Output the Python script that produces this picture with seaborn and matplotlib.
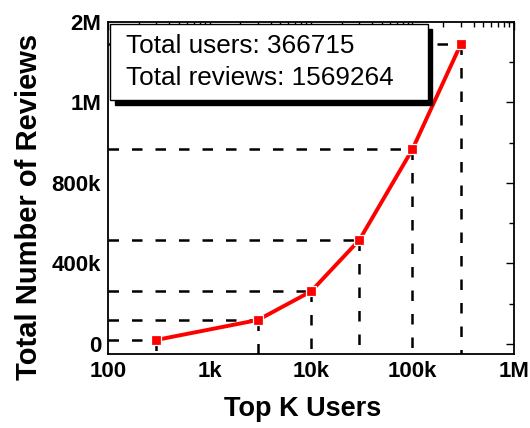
import matplotlib
matplotlib.use("Agg")
import matplotlib.pyplot as plt
import matplotlib.ticker as mticker
from matplotlib.patches import Rectangle
import numpy as np
import pandas as pd
import seaborn as sns

# Top-K users vs. cumulative number of reviews they wrote
top_k = [300, 3000, 10000, 30000, 100000, 300000]
total_reviews = [20000, 119000, 261000, 517000, 968000, 1491000]

total_users_text = "Total users: 366715"
total_reviews_text = "Total reviews: 1569264"

x_ticks = [100, 1000, 10000, 100000, 1000000]
x_tick_labels = ["100", "1k", "10k", "100k", "1M"]

sns.set_theme(style="white")
plt.rcParams["font.family"] = ["Liberation Sans", "DejaVu Sans"]
plt.rcParams["text.color"] = "black"
plt.rcParams["axes.labelcolor"] = "black"
plt.rcParams["xtick.color"] = "black"
plt.rcParams["ytick.color"] = "black"

df = pd.DataFrame({"k": top_k, "reviews": total_reviews})

fig = plt.figure(figsize=(5.30, 4.28), dpi=100)
ax = fig.add_axes([0.2038, 0.1729, 0.7660, 0.7757])

ymin, ymax = -50000, 1600000

# dashed guides from each point to the axes
for k, r in zip(top_k, total_reviews):
    ax.plot([100, k], [r, r], color="black", lw=1.8, dashes=(4.2, 5.2), zorder=1)
    ax.plot([k, k], [r, ymin], color="black", lw=1.8, dashes=(4.2, 5.2), zorder=1)

sns.lineplot(data=df, x="k", y="reviews", ax=ax, color="#ff0000", lw=2.8,
             marker="s", markersize=7.8, markeredgecolor="white",
             markeredgewidth=0.9, zorder=3)

ax.set_xscale("log")
ax.set_xlim(100, 1e6)
ax.set_ylim(ymin, ymax)

ax.set_xticks(x_ticks)
ax.set_xticklabels(x_tick_labels)
ax.xaxis.set_minor_locator(mticker.LogLocator(base=10, subs=np.arange(2, 10)))
ax.xaxis.set_minor_formatter(mticker.NullFormatter())

ax.yaxis.set_major_locator(mticker.MultipleLocator(400000))
ax.yaxis.set_minor_locator(mticker.MultipleLocator(200000))


def fmt_reviews(v, pos):
    if v == 0:
        return "0"
    if abs(v) < 1e6:
        return f"{v / 1e3:.0f}k"
    return f"{v / 1e6:.0f}M"


ax.yaxis.set_major_formatter(mticker.FuncFormatter(fmt_reviews))

ax.tick_params(axis="both", which="both", direction="in", top=True, right=True,
               color="black", labelcolor="black", width=1.0)
ax.tick_params(axis="both", which="major", length=6, labelsize=16, pad=5)
ax.tick_params(axis="both", which="minor", length=3.5)
for lbl in ax.get_xticklabels() + ax.get_yticklabels():
    lbl.set_fontweight("bold")

for sp in ax.spines.values():
    sp.set_color("black")
    sp.set_linewidth(1.3)

ax.set_xlabel("Top K Users", fontsize=19.5, fontweight="bold", color="black")
ax.set_ylabel("Total Number of Reviews", fontsize=21, fontweight="bold", color="black")
ax.xaxis.set_label_coords(0.48, -0.127)
ax.yaxis.set_label_coords(-0.16, 0.443)

# summary box with a drop shadow
bx, by, bw, bh = 0.005, 0.765, 0.783, 0.229
ax.add_patch(Rectangle((bx + 0.011, by - 0.016), bw, bh, transform=ax.transAxes,
                       facecolor="black", edgecolor="black", zorder=5, clip_on=False))
ax.add_patch(Rectangle((bx, by), bw, bh, transform=ax.transAxes,
                       facecolor="white", edgecolor="black", lw=1.0, zorder=6,
                       clip_on=False))
ax.text(0.044, 0.928, total_users_text, transform=ax.transAxes, fontsize=18.8,
        va="center", ha="left", color="black", zorder=7)
ax.text(0.044, 0.831, total_reviews_text, transform=ax.transAxes, fontsize=18.8,
        va="center", ha="left", color="black", zorder=7)

fig.savefig("out.png", dpi=100)
